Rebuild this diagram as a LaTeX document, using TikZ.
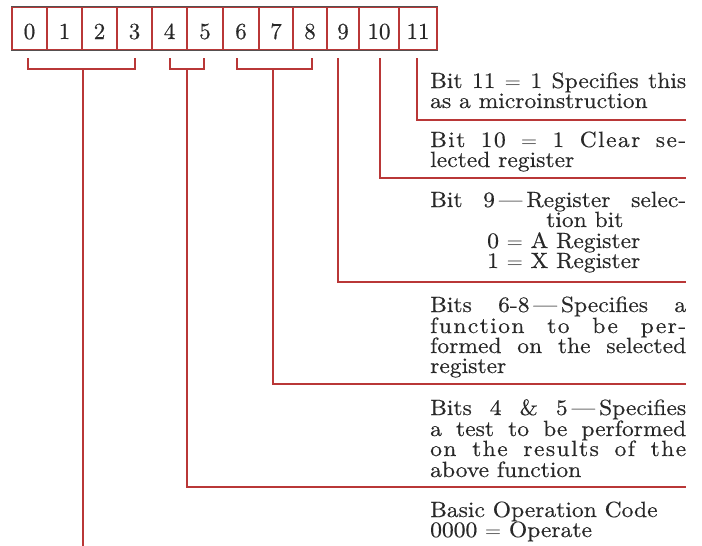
\documentclass[tikz,border=0pt]{standalone}
\usepackage{graphicx}
\usepackage{fontspec}
\setmainfont{lmroman10-regular}[Extension=.otf,FakeBold=0.4]
\definecolor{wire}{RGB}{185,55,55}
\definecolor{edge}{RGB}{85,80,80}
\definecolor{ink}{RGB}{40,40,40}
\newcommand{\tx}[1]{\scalebox{1.07}[1]{#1}}
\newcommand{\jl}[1]{\scalebox{1.07}[1]{\makebox[239.25pt][s]{#1}}}
\newcommand{\ls}{\addfontfeature{LetterSpace=6}}
\begin{document}
\begin{tikzpicture}[x=1pt,y=-1pt,
  cell/.style={draw=wire,line width=1.1pt,minimum height=43pt,inner sep=0pt,
    text height=21pt,text depth=0pt,font=\fontsize{23}{24}\selectfont,text=ink},
  conn/.style={draw=wire,line width=1.1pt},
  txt/.style={anchor=base west,inner sep=0pt,font=\fontsize{22}{23}\selectfont,text=ink}]
\useasboundingbox (0,0) rectangle (702,546);
% cells
\node[cell,minimum width=35pt] (c0) at (29.5,28.5) {0};
\node[cell,minimum width=35pt] (c1) at (64.5,28.5) {1};
\node[cell,minimum width=35pt] (c2) at (99.5,28.5) {2};
\node[cell,minimum width=35pt] (c3) at (134.5,28.5) {3};
\node[cell,minimum width=35pt] (c4) at (169.5,28.5) {4};
\node[cell,minimum width=36pt] (c5) at (205,28.5) {5};
\node[cell,minimum width=36pt] (c6) at (241,28.5) {6};
\node[cell,minimum width=34pt] (c7) at (276,28.5) {7};
\node[cell,minimum width=34pt] (c8) at (310,28.5) {8};
\node[cell,minimum width=32pt] (c9) at (343,28.5) {9};
\node[cell,minimum width=40pt] (c10) at (379,28.5) {10};
\node[cell,minimum width=38pt] (c11) at (418,28.5) {11};
\draw[edge,line width=1.1pt] (c0.north west) -- (c11.north east);
\draw[edge,line width=1.1pt] (c0.south west) -- (c11.south east);
% brackets
\coordinate (b0) at (28,58); \coordinate (b3) at (135,58);
\coordinate (b4) at (170,58); \coordinate (b5) at (204,58);
\coordinate (b6) at (237,58); \coordinate (b8) at (312,58);
\coordinate (s03) at (83,69); \coordinate (s45) at (187,69); \coordinate (s68) at (273,69);
\coordinate (s9) at (338,58); \coordinate (s10) at (380,58); \coordinate (s11) at (417,58);
\draw[conn] (b0) |- (b3 |- s03) -- (b3);
\draw[conn] (b4) |- (b5 |- s45) -- (b5);
\draw[conn] (b6) |- (b8 |- s68) -- (b8);
% ends
\coordinate (e11) at (686,120);
\coordinate (e10) at (686,178);
\coordinate (e9) at (686,282);
\coordinate (e68) at (686,384);
\coordinate (e45) at (686,487);
\coordinate (e03) at (83,546);
\draw[conn] (s11) |- (e11);
\draw[conn] (s10) |- (e10);
\draw[conn] (s9) |- (e9);
\draw[conn] (s68) |- (e68);
\draw[conn] (s45) |- (e45);
\draw[conn] (s03) -- (e03);
% texts
\node[txt] (t11a) at (430,88) {\jl{Bit 11 $=$ 1 Specifies this}};
\node[txt] (t11b) at (430,108) {\tx{as a microinstruction}};
\node[txt] (t10a) at (430,147) {\jl{\ls Bit 10 $=$ 1 Clear se-}};
\node[txt] (t10b) at (430,167) {\tx{lected register}};
\node[txt] (t9a) at (430,207) {\jl{Bit 9\,—\,Register selec-}};
\node[txt] (t9b) at (546,227) {\tx{tion bit}};
\node[txt] (t9c) at (487,248) {\tx{0 $=$ A Register}};
\node[txt] (t9d) at (487,268) {\tx{1 $=$ X Register}};
\node[txt] (t8a) at (430,312) {\jl{Bits 6-8\,—\,Specifies a}};
\node[txt] (t8b) at (430,333) {\jl{\ls function to be per-}};
\node[txt] (t8c) at (430,353) {\jl{formed on the selected}};
\node[txt] (t8d) at (430,373) {\tx{register}};
\node[txt] (t5a) at (430,415) {\jl{Bits 4 \& 5\,—\,Specifies}};
\node[txt] (t5b) at (430,436) {\jl{a test to be performed}};
\node[txt] (t5c) at (430,456) {\jl{\ls on the results of the}};
\node[txt] (t5d) at (430,477) {\tx{above function}};
\node[txt] (t3a) at (430,517) {\tx{Basic Operation Code}};
\node[txt] (t3b) at (430,537) {\tx{0000 $=$ Operate}};
\end{tikzpicture}
\end{document}
